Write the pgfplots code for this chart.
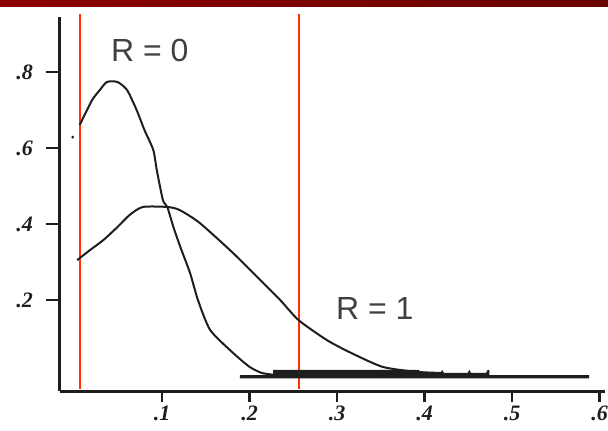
\documentclass[border=0pt]{standalone}
\usepackage{pgfplots}
\pgfplotsset{compat=1.18}
\usepackage{fontspec}
\setmainfont{Liberation Serif}
\newfontfamily\labfont{Liberation Sans}
\definecolor{vline}{RGB}{255,51,0}
\definecolor{barL}{RGB}{140,0,0}
\definecolor{barR}{RGB}{105,0,0}
\definecolor{ink}{RGB}{30,30,30}
\begin{document}
\begin{tikzpicture}
\useasboundingbox (0,0) rectangle (608pt,431pt);
\begin{axis}[
    at={(39.5pt,26.5pt)}, anchor=south west,
    scale only axis,
    width=565.5pt, height=390.5pt,
    xmin=-0.04, xmax=0.606,
    ymin=-0.075, ymax=0.953,
    axis x line=bottom, axis y line=left,
    axis line style={draw=none},
    tick align=inside,
    major tick length=0pt,
    tick style={draw=none},
    xtick={0.1,0.2,0.3,0.4,0.5,0.6},
    xticklabels={.1,.2,.3,.4,.5,.6},
    ytick={0.2,0.4,0.6,0.8},
    yticklabels={.2,.4,.6,.8},
    ticklabel style={font=\fontsize{22}{22}\selectfont\bfseries\itshape, text=ink},
    yticklabel style={xshift=-3pt},
    xticklabel style={yshift=2pt},
]
% axis lines and tick marks, drawn inside the plot box
\addplot[ink, line width=3pt] coordinates {(-0.0166,-0.04) (-0.0166,0.945)};
\addplot[ink, line width=3pt] coordinates {(-0.0166,-0.04) (0.606,-0.04)};
\addplot[ink, line width=2.5pt] coordinates {(0.1,-0.04) (0.1,-0.069)};
\addplot[ink, line width=2.5pt] coordinates {(0.2,-0.04) (0.2,-0.069)};
\addplot[ink, line width=2.5pt] coordinates {(0.3,-0.04) (0.3,-0.069)};
\addplot[ink, line width=2.5pt] coordinates {(0.4,-0.04) (0.4,-0.069)};
\addplot[ink, line width=2.5pt] coordinates {(0.5,-0.04) (0.5,-0.069)};
\addplot[ink, line width=2.5pt] coordinates {(0.6,-0.04) (0.6,-0.069)};
\addplot[ink, line width=2.5pt] coordinates {(-0.0166,0.2) (-0.0326,0.2)};
\addplot[ink, line width=2.5pt] coordinates {(-0.0166,0.4) (-0.0326,0.4)};
\addplot[ink, line width=2.5pt] coordinates {(-0.0166,0.6) (-0.0326,0.6)};
\addplot[ink, line width=2.5pt] coordinates {(-0.0166,0.8) (-0.0326,0.8)};

% vertical red markers
\addplot[vline, line width=2pt] coordinates {(0.0063,-0.034) (0.0063,0.953)};
\addplot[vline, line width=2pt] coordinates {(0.256,-0.034) (0.256,0.953)};

% R = 0
\addplot[ink, line width=2pt, smooth, tension=0.4] coordinates {
(0.006,0.661) (0.020,0.726) (0.029,0.753) (0.037,0.774) (0.049,0.774)
(0.060,0.753) (0.071,0.700) (0.080,0.647) (0.090,0.595) (0.094,0.542)
(0.101,0.463) (0.106,0.445) (0.113,0.392) (0.121,0.339) (0.132,0.271)
(0.141,0.200) (0.155,0.121) (0.181,0.061) (0.200,0.024) (0.214,0.008)
(0.229,0.003)};
\addplot[only marks, mark=*, mark size=1.2pt, ink] coordinates {(-0.002,0.629)};

% R = 1
\addplot[ink, line width=2pt, smooth, tension=0.4] coordinates {
(0.003,0.305) (0.018,0.332) (0.033,0.358) (0.049,0.392) (0.063,0.424)
(0.078,0.445) (0.106,0.445) (0.120,0.437) (0.143,0.403) (0.181,0.324)
(0.212,0.253) (0.235,0.200) (0.256,0.147) (0.288,0.095) (0.314,0.063)
(0.352,0.024) (0.391,0.011) (0.420,0.008)};

% dense tail band
\addplot[fill=ink, draw=none] coordinates {
(0.189,-0.006) (0.189,0.002) (0.227,0.003) (0.227,0.016) (0.394,0.016)
(0.394,0.008) (0.418,0.008) (0.420,0.016) (0.422,0.008) (0.449,0.008)
(0.451,0.016) (0.453,0.008) (0.470,0.008) (0.472,0.016) (0.474,0.016)
(0.474,0.002) (0.588,0.002) (0.588,-0.006)} -- cycle;

\node[font=\labfont\fontsize{32}{32}\selectfont, text=ink!85] at (axis cs:0.086,0.858) {R = 0};
\node[font=\labfont\fontsize{32}{32}\selectfont, text=ink!85] at (axis cs:0.343,0.179) {R = 1};
\end{axis}
% header strip
\fill[left color=barL, right color=barR] (0,424pt) rectangle (608pt,431pt);
\end{tikzpicture}
\end{document}
